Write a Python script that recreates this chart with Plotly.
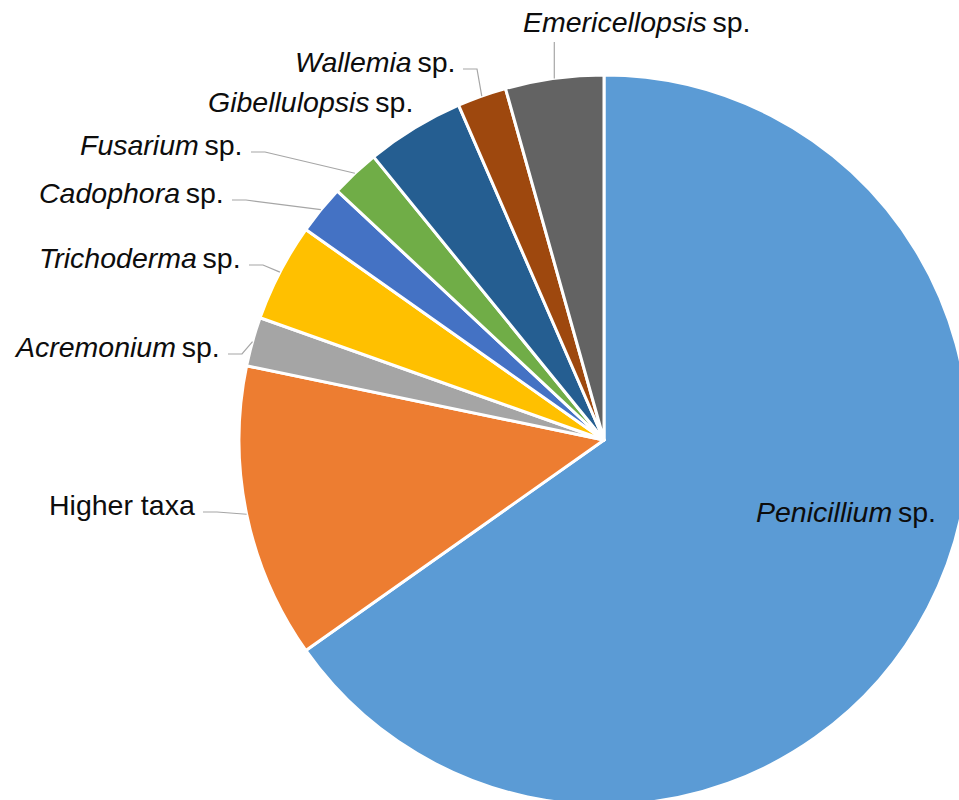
import math
import plotly.graph_objects as go

# ---- data ----
genera = ["Penicillium", "Higher taxa", "Acremonium", "Trichoderma", "Cadophora",
          "Fusarium", "Gibellulopsis", "Wallemia", "Emericellopsis"]
is_genus = [True, False, True, True, True, True, True, True, True]
counts = [30, 6, 1, 2, 1, 1, 2, 1, 2]
colors = ["#5B9BD5", "#ED7D31", "#A5A5A5", "#FFC000", "#4472C4",
          "#70AD47", "#255E91", "#9E480E", "#636363"]

# label placement (pixels in the figure), anchor side, leader style
label_pos = {
    "Penicillium":   (846, 512, "center", None),
    "Higher taxa":   (197, 505, "right", "elbow"),
    "Acremonium":    (222, 347, "right", "elbow"),
    "Trichoderma":   (243, 258, "right", "elbow"),
    "Cadophora":     (226, 193, "right", "elbow"),
    "Fusarium":      (245, 145, "right", "elbow"),
    "Gibellulopsis": (415, 102, "right", None),
    "Wallemia":      (457, 62, "right", "elbow"),
    "Emericellopsis": (636, 22, "center", "vertical"),
}

W, H = 980, 820
CX, CY, R = 604, 440, 365
FONT = "Liberation Sans, Arial, sans-serif"
FS = 28.5


def px(x):
    return x / W


def py(y):
    return 1 - y / H


def label_text(name, genus):
    return f"<i>{name}</i>\u2009sp." if genus else name


fig = go.Figure(go.Pie(
    labels=genera,
    values=counts,
    sort=False,
    direction="clockwise",
    rotation=0,
    textinfo="none",
    hoverinfo="label+value+percent",
    marker=dict(colors=colors, line=dict(color="white", width=3)),
    domain=dict(x=[px(CX - R), px(CX + R)], y=[py(CY + R), py(CY - R)]),
    showlegend=False,
))

total = sum(counts)
cum = 0
annotations = []
shapes = []
for name, genus, v in zip(genera, is_genus, counts):
    mid = 2 * math.pi * (cum + v / 2) / total
    cum += v
    ax_ = CX + R * math.sin(mid)
    ay_ = CY - R * math.cos(mid)
    lx, ly, anchor, leader = label_pos[name]
    annotations.append(dict(
        x=px(lx), y=py(ly), xref="paper", yref="paper",
        xanchor=anchor, yanchor="middle", showarrow=False,
        text=label_text(name, genus),
        font=dict(family=FONT, size=FS, color="#0D0D0D"),
    ))
    if leader == "elbow":
        sx = lx + 6
        sy = ly + 7
        ex = sx + 14
        path = f"M {px(sx)},{py(sy)} L {px(ex)},{py(sy)} L {px(ax_)},{py(ay_)}"
        shapes.append(dict(type="path", xref="paper", yref="paper", path=path,
                           line=dict(color="#A6A6A6", width=1.2)))
    elif leader == "vertical":
        path = f"M {px(ax_)},{py(ly + 20)} L {px(ax_)},{py(ay_)}"
        shapes.append(dict(type="path", xref="paper", yref="paper", path=path,
                           line=dict(color="#A6A6A6", width=1.2)))

fig.update_layout(
    width=W, height=H,
    margin=dict(l=0, r=0, t=0, b=0),
    paper_bgcolor="white",
    plot_bgcolor="white",
    annotations=annotations,
    shapes=shapes,
)

fig.write_html(
    "out.html",
    config={"displayModeBar": False},
    post_script=("document.body.style.margin='0';"
                 "document.body.style.overflow='hidden';"
                 "document.documentElement.style.overflow='hidden';"),
)
